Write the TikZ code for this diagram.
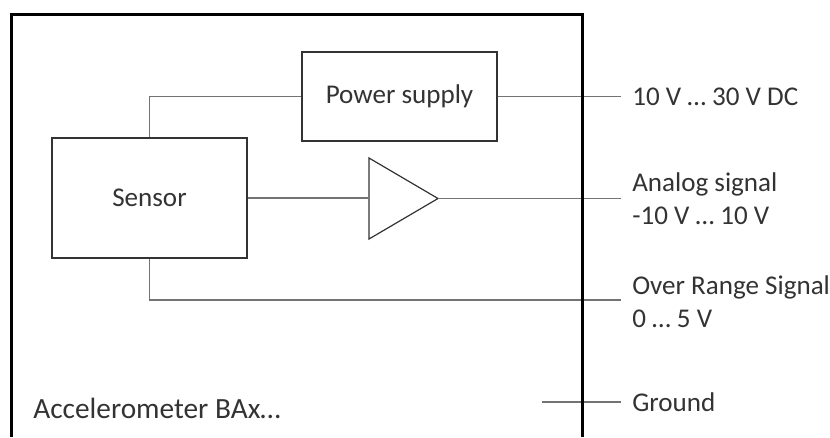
\documentclass[tikz,border=0pt]{standalone}
\usepackage{fontspec}
\setmainfont{Carlito}
\usetikzlibrary{calc,positioning}

\begin{document}
\begin{tikzpicture}[x=0.75pt,y=-0.75pt,
	every node/.style={font=\fontsize{20.3}{24.5}\selectfont,text=black!80},
	block/.style={draw=black!80,line width=0.9pt,minimum width=146.25pt,inner sep=0pt},
	wire/.style={draw=black!55,line width=0.8pt},
	pinlabel/.style={right,inner sep=0pt,align=left}]
						\useasboundingbox (0,0) rectangle (830,437);

						\node[block,minimum height=66.75pt] (PS) at (399.5,96.5) {Power supply};
						\node[block,minimum height=90pt] (S) at (149.5,198) {Sensor};

						\coordinate (ampA) at (369,158);
						\coordinate (ampB) at (369,239);
						\coordinate (ampT) at (438,198.5);
						\draw[draw=black!80,line width=0.9pt] (ampA) -- (ampT) -- (ampB) -- cycle;

						\coordinate (tPS) at (621,96.5);
						\coordinate (tAn) at (621,198.5);
						\coordinate (tOR) at (621,300);
						\coordinate (tG) at (621,402);
						\coordinate (gIn) at (542,402);

						\draw[wire] (S.north) |- (PS.west);
						\draw[wire] (PS.east) -- (tPS);
						\draw[wire] (S.east) -- (S.east -| ampA);
						\draw[wire] (ampT) -- (tAn);
						\draw[wire] (S.south) |- (tOR);
						\draw[wire] (gIn) -- (tG);

						\draw[line width=2.25pt] (11.5,437) |- (582.5,14.5) -- (582.5,437);

						\node[pinlabel] (lPS) at (632,96.5) {10 V … 30 V DC};
						\node[pinlabel] (lAn) at (632,198.5) {Analog signal\\-10 V … 10 V};
						\node[pinlabel] (lOR) at (632,302) {Over Range Signal\\0 … 5 V};
						\node[pinlabel] (lG) at (632,402) {Ground};
						\node[pinlabel,font=\fontsize{22}{26}\selectfont] (lBA) at (33,408) {Accelerometer BAx…};
					\end{tikzpicture}
\end{document}
